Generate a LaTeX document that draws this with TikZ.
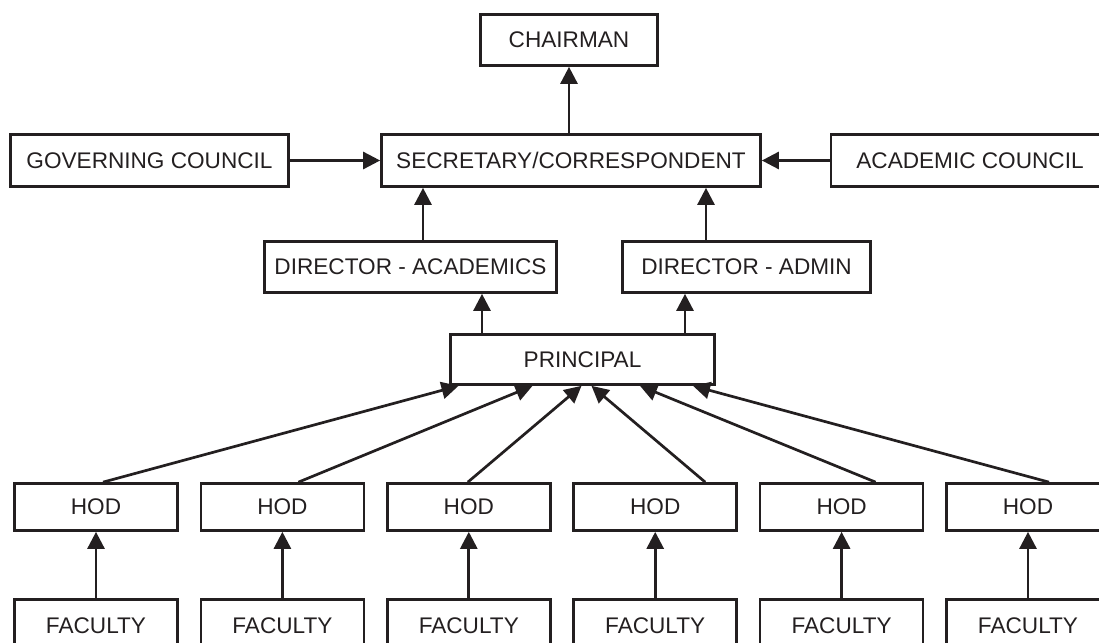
\documentclass[tikz,border=0pt]{standalone}
\usepackage{fontspec}
\setmainfont{Liberation Sans}
\usetikzlibrary{arrows.meta, positioning, calc}
\definecolor{ink}{HTML}{231F20}

\begin{document}
\begin{tikzpicture}[x=1pt, y=-1pt, >={Triangle[length=17pt, width=17pt]}]
\tikzset{
    post/.style={rectangle, draw=ink, line width=2.7pt, text=ink, inner sep=0pt, font=\fontsize{22.6}{26}\selectfont},
    hod/.style={post, minimum width=163pt, minimum height=47pt},
    faculty/.style={post, minimum width=163pt, minimum height=53pt},
    line/.style={->, draw=ink, line width=2.7pt}
}
\useasboundingbox (0,0) rectangle (1099,642);

% --- Top of the chart ---
\node (chair) at (569, 40) [post, minimum width=177pt, minimum height=51pt] {CHAIRMAN};
\node (gov) at (149.5, 160.5) [post, minimum width=278pt, minimum height=52pt] {GOVERNING COUNCIL};
\node (sec) at (571, 160.5) [post, minimum width=379pt, minimum height=52pt] {SECRETARY/CORRESPONDENT};
\node (acad) at (970, 160.5) [post, minimum width=278pt, minimum height=52pt] {ACADEMIC COUNCIL};

\draw[line] (chair.south |- sec.north) -- (chair.south);
\draw[line] (gov.east) -- (sec.west);
\draw[line] (acad.west) -- (sec.east);

% --- Directors and principal ---
\node (dirac) at (410.5, 267) [post, minimum width=292pt, minimum height=51pt] {DIRECTOR - ACADEMICS};
\node (dirad) at (746.5, 267) [post, minimum width=248pt, minimum height=51pt] {DIRECTOR - ADMIN};
\node (prin) at (582.5, 359.5) [post, minimum width=264pt, minimum height=50pt] {PRINCIPAL};

\draw[line] ([xshift=12.5pt]dirac.north) -- ([xshift=12.5pt]dirac.north |- sec.south);
\draw[line] ([xshift=-40.5pt]dirad.north) -- ([xshift=-40.5pt]dirad.north |- sec.south);
\draw[line] ([xshift=-100.5pt]prin.north) -- ([xshift=-100.5pt]prin.north |- dirac.south);
\draw[line] ([xshift=102.5pt]prin.north) -- ([xshift=102.5pt]prin.north |- dirad.south);

% --- Heads of department ---
\node (hod1) at (96, 507) [hod] {HOD};
\node (hod2) at (282.4, 507) [hod] {HOD};
\node (hod3) at (468.8, 507) [hod] {HOD};
\node (hod4) at (655.2, 507) [hod] {HOD};
\node (hod5) at (841.6, 507) [hod] {HOD};
\node (hod6) at (1028, 507) [hod] {HOD};

\draw[line] ([xshift=7pt]hod1.north) -- ([xshift=-124pt]prin.south);
\draw[line] ([xshift=16pt]hod2.north) -- ([xshift=-50pt]prin.south);
\draw[line] ([xshift=-1pt]hod3.north) -- ([xshift=-1pt]prin.south);
\draw[line] ([xshift=50pt]hod4.north) -- ([xshift=9pt]prin.south);
\draw[line] ([xshift=34pt]hod5.north) -- ([xshift=57.5pt]prin.south);
\draw[line] ([xshift=21pt]hod6.north) -- ([xshift=110.5pt]prin.south);

% --- Faculty ---
\node (fac1) at (96, 626) [faculty] {FACULTY};
\node (fac2) at (282.4, 626) [faculty] {FACULTY};
\node (fac3) at (468.8, 626) [faculty] {FACULTY};
\node (fac4) at (655.2, 626) [faculty] {FACULTY};
\node (fac5) at (841.6, 626) [faculty] {FACULTY};
\node (fac6) at (1028, 626) [faculty] {FACULTY};

\draw[line] (fac1) -- (hod1);
\draw[line] (fac2) -- (hod2);
\draw[line] (fac3) -- (hod3);
\draw[line] (fac4) -- (hod4);
\draw[line] (fac5) -- (hod5);
\draw[line] (fac6) -- (hod6);

\end{tikzpicture}
\end{document}
